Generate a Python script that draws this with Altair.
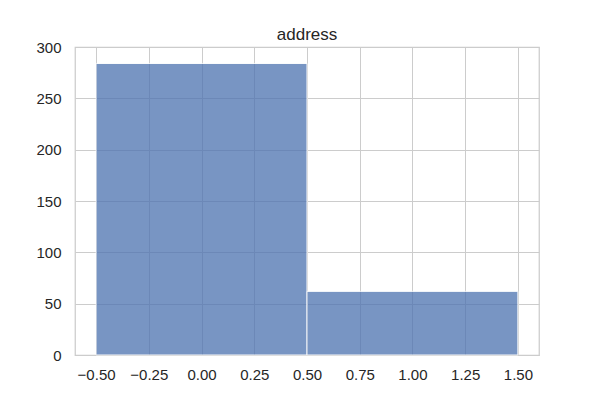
import altair as alt
import pandas as pd

bin_start = [-0.5, 0.5]
bin_end = [0.5, 1.5]
counts = [284, 62]

df = pd.DataFrame({"start": bin_start, "end": bin_end, "count": counts})

FONT = "Liberation Sans"

bars = alt.Chart(df).mark_rect(
    color="#4c72b0", opacity=0.75, stroke="white", strokeWidth=1, strokeOpacity=1
).encode(
    x=alt.X("start:Q", scale=alt.Scale(domain=[-0.6, 1.6], nice=False, zero=False),
            axis=alt.Axis(values=[-0.5, -0.25, 0, 0.25, 0.5, 0.75, 1.0, 1.25, 1.5],
                          format=".2f", title=None)),
    x2="end:Q",
    y=alt.Y("count:Q", scale=alt.Scale(domain=[0, 300], nice=False),
            axis=alt.Axis(values=[0, 50, 100, 150, 200, 250, 300], title=None)),
    y2=alt.datum(0),
)

chart = bars.properties(
    width=464, height=308,
    title=alt.TitleParams("address", fontSize=17, font=FONT, fontWeight="normal",
                          color="#262626", offset=7, dy=11),
    padding={"left": 75, "top": 47, "right": 61, "bottom": 45},
    autosize="none",
    background="white",
).configure_view(
    stroke="#cccccc", strokeWidth=1.25
).configure_axis(
    grid=True, gridColor="#cccccc", gridWidth=1, domain=False, ticks=False,
    labelFont=FONT, labelFontSize=15, labelColor="#262626", labelPadding=12,
).configure_axisY(labelPadding=14)

chart.save("out.html", embed_options={"renderer": "svg", "actions": False})
